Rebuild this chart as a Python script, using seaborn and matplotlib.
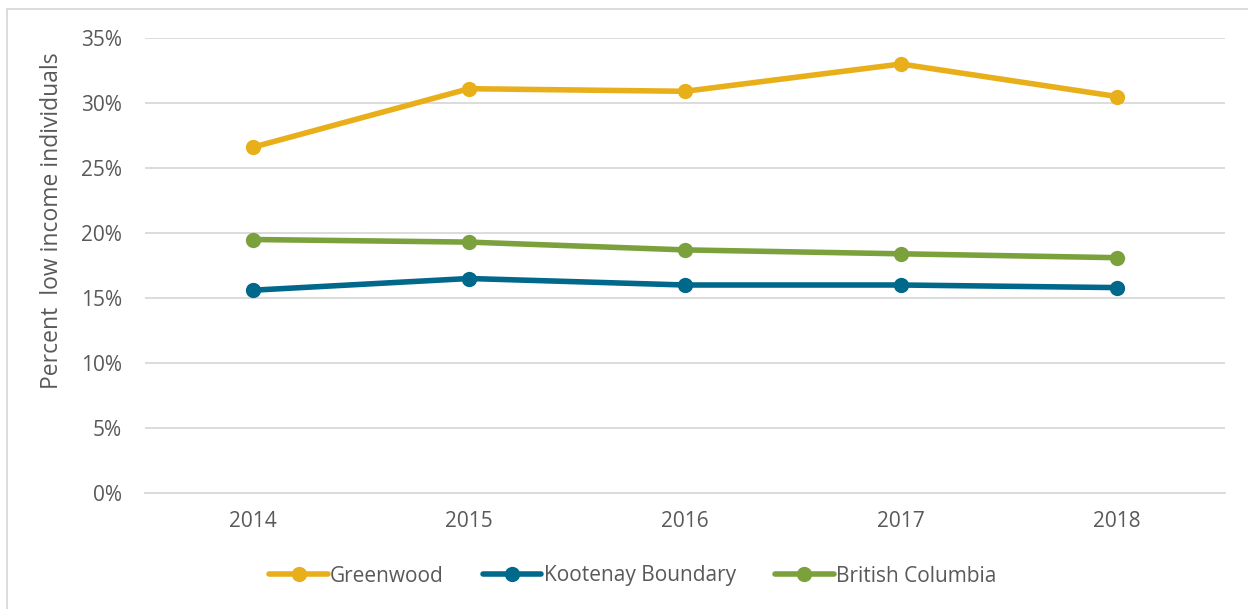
import pandas as pd
import matplotlib
matplotlib.use('Agg')
import matplotlib.pyplot as plt
import seaborn as sns
from matplotlib.ticker import FuncFormatter, MultipleLocator
from matplotlib.lines import Line2D

years = ['2014', '2015', '2016', '2017', '2018']
greenwood = [26.6, 31.1, 30.9, 33.0, 30.5]
kootenay = [15.6, 16.5, 16.0, 16.0, 15.8]
british_columbia = [19.5, 19.3, 18.7, 18.4, 18.1]

series = ['Greenwood', 'Kootenay Boundary', 'British Columbia']
colors = ['#E8AF1B', '#00688B', '#7BA13D']

df = pd.DataFrame({
    'year': years * 3,
    'pct': greenwood + kootenay + british_columbia,
    'region': [s for s in series for _ in years],
})

sns.set_style('white')
plt.rcParams['font.family'] = ['Open Sans', 'DejaVu Sans']
text_color = '#595959'

fig = plt.figure(figsize=(12.48, 6.09), dpi=100)
ax = fig.add_axes([145 / 1248, 1 - 493 / 609, 1080 / 1248, 455 / 609])

sns.lineplot(data=df, x='year', y='pct', hue='region', hue_order=series,
             palette=colors, marker='o', markersize=11, markeredgewidth=0,
             linewidth=4, ax=ax, legend=False, sort=False)

ax.set_xlim(-0.5, len(years) - 0.5)
ax.set_ylim(0, 35)
ax.yaxis.set_major_locator(MultipleLocator(5))
ax.yaxis.set_major_formatter(FuncFormatter(lambda v, p: f'{v:.0f}%'))
ax.grid(axis='y', color='#D9D9D9', linewidth=1.3)
ax.set_axisbelow(True)
for s in ['top', 'right', 'left']:
    ax.spines[s].set_visible(False)
ax.spines['bottom'].set_color('#D9D9D9')
ax.spines['bottom'].set_linewidth(1.3)
ax.tick_params(axis='both', length=0, labelsize=15, labelcolor=text_color)
ax.tick_params(axis='x', pad=13)
ax.tick_params(axis='y', pad=16.5)
ax.set_xlabel('')
ax.set_ylabel('Percent  low income individuals', fontsize=16.5, color=text_color)
ax.yaxis.set_label_coords(-0.075, 0.598)

handles = [Line2D([0], [0], color=c, linewidth=4, marker='o', markersize=11,
                  markeredgewidth=0) for c in colors]
fig.legend(handles, series, loc='center', bbox_to_anchor=(0.507, 1 - 576 / 609),
           ncol=3, frameon=False, fontsize=15, labelcolor=text_color,
           handlelength=2.8, handletextpad=0.1, columnspacing=1.9)

# thin frame around the chart area
fig.add_artist(Line2D([7 / 1248, 7 / 1248], [0, 1 - 9 / 609], color='#D9D9D9', linewidth=1.3))
fig.add_artist(Line2D([7 / 1248, 1], [1 - 9 / 609, 1 - 9 / 609], color='#D9D9D9', linewidth=1.3))

fig.savefig('out.png', dpi=100)
